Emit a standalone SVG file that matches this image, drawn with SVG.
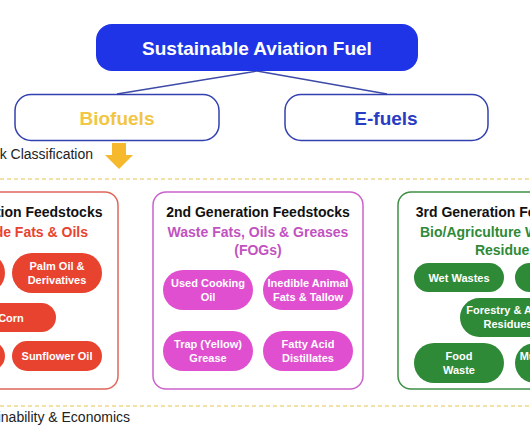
<svg xmlns="http://www.w3.org/2000/svg" width="530" height="442" viewBox="0 0 530 442">
<style>
text{font-family:"Liberation Sans",Arial,sans-serif;font-weight:bold}
.pt{font-size:11px;fill:#fff;text-anchor:middle}
.ttl{font-size:14px;fill:#111;text-anchor:middle}
.sub{font-size:14px;text-anchor:middle}
.lbl{font-weight:normal;font-size:14px;fill:#222}
.red{fill:#e8432f}
.mag{fill:#e04fd0}
.grn{fill:#2f8a37}
.dash{stroke:#efd98a;stroke-width:1.5;stroke-dasharray:4 3}
</style>
<rect width="530" height="442" fill="#fff"/>
<line class="dash" x1="0" y1="179" x2="530" y2="179"/>
<line class="dash" x1="0" y1="406" x2="530" y2="406"/>
<g id="connectors" stroke="#3d4aa8" stroke-width="1.5" fill="none">
<line x1="257" y1="71" x2="117" y2="94"/>
<line x1="257" y1="71" x2="387" y2="94"/>
</g>
<g id="saf">
<rect x="96" y="24" width="322" height="47" rx="16" fill="#1f34e6"/>
<text x="257" y="55" font-size="19" fill="#fff" text-anchor="middle">Sustainable Aviation Fuel</text>
</g>
<g id="biofuels">
<rect x="15" y="94.5" width="204" height="46" rx="16" fill="#fff" stroke="#3341b0" stroke-width="1.5"/>
<text x="117" y="125" font-size="19" fill="#f1c645" text-anchor="middle">Biofuels</text>
</g>
<g id="efuels">
<rect x="285" y="94.5" width="203" height="46" rx="16" fill="#fff" stroke="#3341b0" stroke-width="1.5"/>
<text x="386" y="125" font-size="19" fill="#2a3bc4" text-anchor="middle">E-fuels</text>
</g>
<g id="classification">
<text class="lbl" x="93" y="159" text-anchor="end">Feedstock Classification</text>
<polygon points="112,143 126,143 126,155 133,155 119,169 105,155 112,155" fill="#f6b82c"/>
</g>
<g id="gen1">
<rect x="-92" y="192" width="210" height="197" rx="13" fill="#fff" stroke="#e0675a" stroke-width="1.5"/>
<text class="ttl" x="13" y="217">1st Generation Feedstocks</text>
<text class="sub red" x="88" y="237" text-anchor="end" style="text-anchor:end">Crude Fats &amp; Oils</text>
<rect class="red" x="-85" y="253" width="90" height="40" rx="20"/>
<rect class="red" x="12" y="253" width="90" height="40" rx="20"/>
<text class="pt" x="57" y="270">Palm Oil &amp;</text>
<text class="pt" x="57" y="284">Derivatives</text>
<rect class="red" x="-34" y="303" width="90" height="29" rx="14.5"/>
<text class="pt" x="11" y="321.5">Corn</text>
<rect class="red" x="-85" y="341" width="90" height="30" rx="15"/>
<rect class="red" x="12" y="341" width="90" height="30" rx="15"/>
<text class="pt" x="57" y="360">Sunflower Oil</text>
</g>
<g id="gen2">
<rect x="153" y="192" width="210" height="197" rx="13" fill="#fff" stroke="#cc62cc" stroke-width="1.5"/>
<text class="ttl" x="258" y="217">2nd Generation Feedstocks</text>
<text class="sub" x="258" y="237" fill="#c252c0">Waste Fats, Oils &amp; Greases</text>
<text class="sub" x="258" y="255" fill="#c252c0">(FOGs)</text>
<rect class="mag" x="163" y="270" width="90" height="40" rx="20"/>
<text class="pt" x="208" y="287">Used Cooking</text>
<text class="pt" x="208" y="301">Oil</text>
<rect class="mag" x="263" y="270" width="90" height="40" rx="20"/>
<text class="pt" x="308" y="287">Inedible Animal</text>
<text class="pt" x="308" y="301">Fats &amp; Tallow</text>
<rect class="mag" x="163" y="331" width="90" height="40" rx="20"/>
<text class="pt" x="208" y="348">Trap (Yellow)</text>
<text class="pt" x="208" y="362">Grease</text>
<rect class="mag" x="263" y="331" width="90" height="40" rx="20"/>
<text class="pt" x="308" y="348">Fatty Acid</text>
<text class="pt" x="308" y="362">Distillates</text>
</g>
<g id="gen3">
<rect x="398" y="192" width="210" height="197" rx="13" fill="#fff" stroke="#3f8f45" stroke-width="1.5"/>
<text class="ttl" x="506" y="217">3rd Generation Feedstocks</text>
<text class="sub grn" x="420" y="237" style="text-anchor:start">Bio/Agriculture Wastes &amp;</text>
<text class="sub grn" x="506" y="255">Residues</text>
<rect class="grn" x="414" y="263" width="90" height="29" rx="14.5"/>
<text class="pt" x="459" y="281.5">Wet Wastes</text>
<rect class="grn" x="515" y="263" width="90" height="29" rx="14.5"/>
<rect class="grn" x="460" y="298" width="96" height="39" rx="19.5"/>
<text class="pt" x="508" y="314">Forestry &amp; Agro</text>
<text class="pt" x="508" y="328">Residues</text>
<rect class="grn" x="414" y="343" width="90" height="40" rx="20"/>
<text class="pt" x="459" y="360">Food</text>
<text class="pt" x="459" y="374">Waste</text>
<rect class="grn" x="515" y="343" width="90" height="40" rx="20"/>
<text class="pt" x="560" y="360">Municipal Solid</text>
<text class="pt" x="560" y="374">Waste</text>
</g>
<g id="footer">
<text class="lbl" x="130" y="422" text-anchor="end">Sustainability &amp; Economics</text>
</g>
</svg>
